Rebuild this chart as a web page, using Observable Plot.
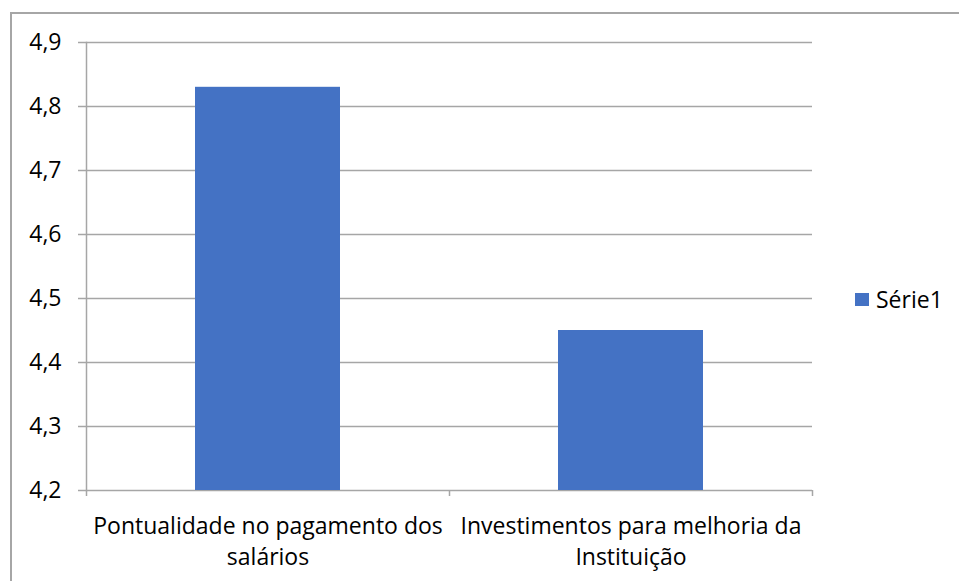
<!DOCTYPE html>
<html>
<head>
<meta charset="utf-8">
<script src="https://cdn.jsdelivr.net/npm/d3@7"></script>
<script src="https://cdn.jsdelivr.net/npm/@observablehq/plot@0.6"></script>
<style>
  html, body { margin: 0; padding: 0; background: #fff; }
  #wrap { position: relative; width: 959px; height: 581px; overflow: hidden; font-family: "Open Sans", sans-serif; }
  #border { position: absolute; left: 10px; top: 12px; width: 1000px; height: 700px; border: 2px solid #a6a6a6; box-sizing: border-box; }
  #chart { position: absolute; left: 0; top: 0; }
  #legend { position: absolute; left: 855px; top: 283px; display: flex; align-items: center; font-size: 23px; color: #000; }
  #legend .sw { width: 14px; height: 13px; background: #4472C4; margin-right: 7px; }
</style>
</head>
<body>
<div id="wrap">
  <div id="border"></div>
  <div id="chart"></div>
  <div id="legend"><span class="sw"></span><span>Série1</span></div>
</div>
<script>
const categories = ["Pontualidade no pagamento dos salários", "Investimentos para melhoria da Instituição"];
const tickLabels = ["Pontualidade no pagamento dos\nsalários", "Investimentos para melhoria da\nInstituição"];
const values = [4.83, 4.45];
const yTicks = [4.2, 4.3, 4.4, 4.5, 4.6, 4.7, 4.8, 4.9];
const seriesName = "Série1";

const data = categories.map((c, i) => ({category: c, value: values[i]}));
const fmt = d => d.toFixed(1).replace(".", ",");
const W = 959, H = 581, mL = 86, mR = 147, mT = 42, mB = 91;
const step = (W - mL - mR) / categories.length;

const chart = Plot.plot({
  width: W,
  height: H,
  marginLeft: mL,
  marginRight: mR,
  marginTop: mT,
  marginBottom: mB,
  style: {fontFamily: "Open Sans, sans-serif", background: "transparent", overflow: "visible"},
  x: {domain: categories, paddingInner: 0.6, paddingOuter: 0.3, label: null},
  y: {domain: [4.2, 4.9], label: null},
  marks: [
    Plot.ruleY(yTicks, {stroke: "#a6a6a6", strokeWidth: 1.5}),
    Plot.barY(data, {x: "category", y1: 4.2, y2: "value", fill: "#4472C4"}),
    Plot.ruleX(categories, {x: d => d, y1: 4.2, y2: 4.2, insetBottom: -6, dx: -step / 2, stroke: "#a6a6a6", strokeWidth: 1.5}),
    Plot.ruleX(categories.slice(-1), {x: d => d, y1: 4.2, y2: 4.2, insetBottom: -6, dx: step / 2, stroke: "#a6a6a6", strokeWidth: 1.5}),
    Plot.frame({anchor: "left", stroke: "#a6a6a6", strokeWidth: 1.5, strokeOpacity: 1}),
    Plot.axisY({ticks: yTicks, tickFormat: fmt, tickSize: 8, tickPadding: 17, stroke: "#a6a6a6", strokeWidth: 1.5, fontSize: 23, fill: "#000", tickRotate: 0}),
    Plot.axisX({tickSize: 0, tickPadding: 21, tickFormat: d => tickLabels[categories.indexOf(d)], fontSize: 23, lineHeight: 1.36, fill: "#000"})
  ]
});
document.getElementById("chart").appendChild(chart);
</script>
</body>
</html>
